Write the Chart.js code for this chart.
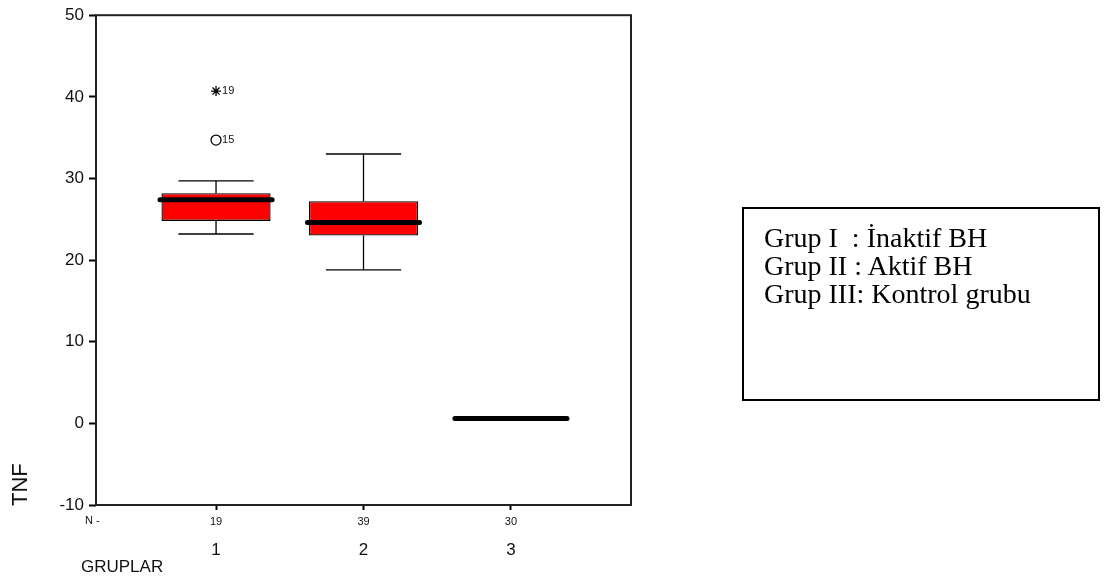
<!DOCTYPE html>
<html>
<head>
<meta charset="utf-8">
<script src="https://cdn.jsdelivr.net/npm/chart.js@4.4.1/dist/chart.umd.min.js"></script>
<style>
  body { margin: 0; background: #fff; }
  #wrap { position: relative; width: 1104px; height: 578px; }
  #myChart { position: absolute; left: 0; top: 0; }
  .lbl { position: absolute; font-family: "Liberation Sans", Arial, sans-serif; color: #111; white-space: nowrap; }
  #legendBox {
    position: absolute; left: 742px; top: 207px; width: 354px; height: 190px;
    border: 2px solid #000; box-sizing: content-box;
    font-family: "Liberation Serif", "Times New Roman", serif; font-size: 28px; line-height: 28px;
    padding: 0; color: #000;
  }
  #legendBox div { position: relative; left: 20px; top: 15px; white-space: nowrap; }
</style>
</head>
<body>
<div id="wrap">
  <canvas id="myChart" width="1104" height="578"></canvas>
  <div class="lbl" style="left:85px; top:514px; font-size:11px;">N -</div>
  <div class="lbl" style="left:81px; top:557px; font-size:17px;">GRUPLAR</div>
  <div class="lbl" style="left:7px; font-size:22px; transform-origin:0 0; transform:rotate(-90deg); top:506px;">TNF</div>
  <div id="legendBox">
    <div>Grup I &nbsp;: İnaktif BH</div>
    <div>Grup II : Aktif BH</div>
    <div>Grup III: Kontrol grubu</div>
  </div>
</div>
<script>
// groups and counts
const groups = [1, 2, 3];
const counts = [19, 39, 30];
// box plot values
const mins    = [23.2, 18.8, 0.6];
const q1s     = [24.8, 23.0, 0.6];
const medians = [27.4, 24.6, 0.6];
const q3s     = [28.2, 27.2, 0.6];
const maxs    = [29.7, 33.0, 0.6];
// outliers (circle) and extremes (star)
const outGroup = [1];
const outValue = [34.7];
const outLabel = ['15'];
const extGroup = [1];
const extValue = [40.7];
const extLabel = ['19'];
const yTicks = [-10, 0, 10, 20, 30, 40, 50];

const boxHalf = 0.37;
const capHalf = 0.255;

const boxPlugin = {
    id: 'boxExtras',
    afterDatasetsDraw(chart) {
        const ctx = chart.ctx;
        const x = chart.scales.x;
        const y = chart.scales.y;
        ctx.save();
        ctx.strokeStyle = '#000';
        groups.forEach((g, i) => {
            const cx = x.getPixelForValue(g);
            const capL = x.getPixelForValue(g - capHalf);
            const capR = x.getPixelForValue(g + capHalf);
            ctx.lineWidth = 1.3;
            if (maxs[i] > q3s[i]) {
                ctx.beginPath();
                ctx.moveTo(cx, y.getPixelForValue(q3s[i]));
                ctx.lineTo(cx, y.getPixelForValue(maxs[i]));
                ctx.moveTo(capL, y.getPixelForValue(maxs[i]));
                ctx.lineTo(capR, y.getPixelForValue(maxs[i]));
                ctx.stroke();
            }
            if (mins[i] < q1s[i]) {
                ctx.beginPath();
                ctx.moveTo(cx, y.getPixelForValue(q1s[i]));
                ctx.lineTo(cx, y.getPixelForValue(mins[i]));
                ctx.moveTo(capL, y.getPixelForValue(mins[i]));
                ctx.lineTo(capR, y.getPixelForValue(mins[i]));
                ctx.stroke();
            }
            ctx.lineWidth = 5;
            ctx.lineCap = 'round';
            ctx.beginPath();
            ctx.moveTo(x.getPixelForValue(g - boxHalf - 0.01), y.getPixelForValue(medians[i]));
            ctx.lineTo(x.getPixelForValue(g + boxHalf + 0.01), y.getPixelForValue(medians[i]));
            ctx.stroke();
            ctx.lineCap = 'butt';
            // N counts under the axis
            ctx.fillStyle = '#111';
            ctx.font = '11px "Liberation Sans", Arial, sans-serif';
            ctx.textAlign = 'center';
            ctx.textBaseline = 'middle';
            ctx.fillText(String(counts[i]), cx, chart.chartArea.bottom + 17);
        });
        // outlier case labels
        ctx.font = '11px "Liberation Sans", Arial, sans-serif';
        ctx.textAlign = 'left';
        outGroup.forEach((g, i) => {
            ctx.fillText(outLabel[i], x.getPixelForValue(g) + 6, y.getPixelForValue(outValue[i]));
        });
        extGroup.forEach((g, i) => {
            ctx.fillText(extLabel[i], x.getPixelForValue(g) + 6, y.getPixelForValue(extValue[i]));
        });
        // frame
        const a = chart.chartArea;
        ctx.lineWidth = 2;
        ctx.strokeStyle = '#222';
        ctx.strokeRect(a.left, a.top, a.right - a.left, a.bottom - a.top);
        ctx.restore();
    }
};

const ctx = document.getElementById('myChart');

new Chart(ctx, {
    data: {
        datasets: [{
            type: 'bar',
            data: groups.map((g, i) => ({ x: g, y: [q1s[i], q3s[i]] })),
            backgroundColor: '#ff0000',
            borderColor: '#000',
            borderWidth: 1.3,
            borderSkipped: false,
            categoryPercentage: 1,
            barPercentage: boxHalf * 2
        }, {
            type: 'scatter',
            data: outGroup.map((g, i) => ({ x: g, y: outValue[i] })),
            pointStyle: 'circle',
            pointRadius: 5,
            backgroundColor: '#fff',
            borderColor: '#000',
            borderWidth: 1.3
        }, {
            type: 'scatter',
            data: extGroup.map((g, i) => ({ x: g, y: extValue[i] })),
            pointStyle: 'star',
            pointRadius: 5,
            borderColor: '#000',
            borderWidth: 1.3
        }]
    },
    options: {
        responsive: false,
        animation: false,
        layout: { padding: { left: 0, top: 15, right: 473, bottom: 0 } },
        plugins: { legend: { display: false }, tooltip: { enabled: false } },
        scales: {
            x: {
                type: 'linear',
                min: 0.186,
                max: 3.814,
                offset: false,
                afterBuildTicks: (s) => { s.ticks = groups.map(v => ({ value: v })); },
                afterFit: (s) => { s.height = 73; },
                grid: { offset: false, drawOnChartArea: false, drawTicks: true, tickLength: 5, tickWidth: 2, tickColor: '#000' },
                border: { display: false },
                ticks: {
                    padding: 30,
                    color: '#111',
                    font: { family: '"Liberation Sans", Arial, sans-serif', size: 17 },
                    callback: (v) => String(v)
                }
            },
            y: {
                min: -10,
                max: 50,
                afterBuildTicks: (s) => { s.ticks = yTicks.map(v => ({ value: v })); },
                afterFit: (s) => { s.width = 96; },
                grid: { drawOnChartArea: false, drawTicks: true, tickLength: 7, tickWidth: 2, tickColor: '#000' },
                border: { display: false },
                ticks: {
                    padding: 5,
                    color: '#111',
                    font: { family: '"Liberation Sans", Arial, sans-serif', size: 17 }
                }
            }
        }
    },
    plugins: [boxPlugin]
});
</script>
</body>
</html>
